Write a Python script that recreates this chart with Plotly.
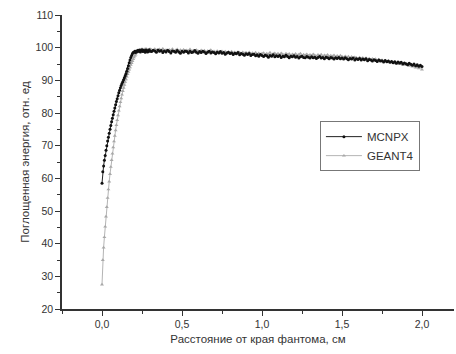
import plotly.graph_objects as go

# x grid (cm): fine steps on the rising edge, then 0.01 cm
x_vals = [round(i * 0.005, 3) for i in range(61)] + [round(0.3 + i * 0.01, 2) for i in range(1, 171)]

mcnpx_rise = [58.5, 62.0, 63.8, 65.5, 67.0, 68.6, 70.0, 71.4, 72.6, 73.8,
              75.0, 76.2, 77.3, 78.4, 79.5, 80.5, 81.5, 82.5, 83.5, 84.4,
              85.3, 86.2, 87.0, 87.7, 88.4, 89.0, 89.6, 90.2, 90.8, 91.4,
              92.0, 92.8, 93.6, 94.5, 95.4, 96.2, 97.0, 97.6, 98.1, 98.5,
              98.6, 98.9, 98.5, 99.0, 98.8, 99.2, 98.9, 99.3, 98.7, 99.1,
              99.4, 98.8, 99.2, 99.0, 98.6, 99.3, 99.1, 98.7, 99.0, 99.4, 98.9]
mcnpx_flat = [98.8, 99.2, 99.0, 98.6, 99.3, 98.9, 99.1, 98.5, 99.0, 98.7,
              99.2, 98.8, 98.4, 99.0, 98.9, 98.6, 99.1, 98.7, 98.3, 98.9,
              98.6, 99.0, 98.8, 98.4, 98.9, 98.5, 98.7, 99.1, 98.6, 98.3,
              98.8, 98.5, 98.9, 98.7, 98.2, 98.6, 98.9, 98.4, 98.7, 98.5,
              98.1, 98.6, 98.4, 98.8, 98.3, 98.5, 98.0, 98.4, 98.6, 98.2,
              98.4, 97.9, 98.3, 98.1, 98.5, 97.8, 98.2, 98.0, 97.7, 98.1,
              97.9, 98.2, 97.6, 97.9, 98.0, 97.5, 97.8, 97.4, 97.9, 97.6,
              97.3, 97.7, 97.5, 97.1, 97.6, 97.4, 97.8, 97.2, 97.5, 97.3,
              97.6, 97.0, 97.4, 97.2, 97.7, 97.3, 96.9, 97.4, 97.2, 97.5,
              97.1, 97.3, 96.8, 97.2, 97.4, 97.0, 96.9, 97.3, 97.1, 96.8,
              97.2, 96.9, 97.1, 96.7, 97.0, 97.3, 96.8, 97.0, 96.6, 97.1,
              96.9, 96.6, 97.0, 96.8, 96.5, 96.9, 96.7, 97.0, 96.6, 96.8,
              96.5, 96.9, 96.6, 96.3, 96.7, 96.5, 96.8, 96.2, 96.6, 96.4,
              96.7, 96.2, 96.5, 96.3, 96.6, 96.0, 96.4, 96.2, 95.9, 96.3,
              96.1, 95.8, 96.2, 95.9, 96.0, 95.6, 96.1, 95.7, 95.9, 95.5,
              95.8, 95.4, 95.7, 95.2, 95.6, 95.3, 95.5, 95.0, 95.3, 95.1,
              94.8, 95.2, 94.9, 94.6, 95.0, 94.5, 94.8, 94.3, 94.6, 94.2]
mcnpx = mcnpx_rise + mcnpx_flat

geant4_rise = [27.5, 35.0, 38.8, 42.0, 45.2, 48.3, 51.2, 54.0, 56.6, 59.0,
               61.3, 63.5, 65.6, 67.6, 69.5, 71.3, 73.0, 74.7, 76.3, 77.8,
               79.3, 80.7, 82.0, 83.3, 84.5, 85.6, 86.7, 87.7, 88.6, 89.5,
               90.3, 91.1, 91.9, 92.6, 93.3, 94.0, 94.7, 95.3, 95.9, 96.5,
               97.0, 97.5, 97.9, 98.3, 98.6, 98.9, 99.1, 98.8, 99.4, 99.0,
               99.6, 99.2, 98.9, 99.5, 99.1, 99.7, 99.0, 99.4, 98.9, 99.3, 99.6]
geant4_flat = [99.4, 99.0, 99.6, 99.2, 98.9, 99.5, 99.1, 99.7, 99.0, 99.3,
               98.9, 99.4, 99.1, 99.6, 98.8, 99.2, 99.5, 98.9, 99.3, 99.0,
               99.4, 98.8, 99.2, 99.0, 99.5, 98.9, 99.1, 98.7, 99.3, 99.0,
               98.7, 99.2, 98.9, 99.1, 98.6, 99.0, 98.8, 99.3, 98.7, 98.9,
               98.6, 99.0, 98.7, 98.4, 98.9, 98.6, 98.8, 98.3, 98.7, 98.5,
               98.8, 98.4, 98.6, 98.2, 98.7, 98.5, 98.1, 98.6, 98.3, 98.5,
               98.2, 98.6, 98.0, 98.4, 98.1, 98.5, 97.9, 98.3, 98.0, 98.2,
               98.4, 97.9, 98.2, 98.0, 98.5, 97.8, 98.1, 98.3, 97.9, 98.2,
               97.8, 98.3, 98.0, 97.7, 98.2, 97.9, 98.1, 97.6, 98.0, 97.8,
               98.1, 97.7, 97.9, 98.2, 97.6, 97.9, 97.7, 98.0, 97.5, 97.8,
               97.6, 98.0, 97.7, 97.4, 97.8, 97.5, 97.9, 97.3, 97.7, 97.5,
               97.8, 97.3, 97.6, 97.4, 97.7, 97.1, 97.5, 97.2, 97.6, 97.3,
               97.0, 97.4, 97.1, 97.3, 96.9, 97.2, 96.8, 97.1, 96.9, 96.6,
               97.0, 96.7, 96.9, 96.5, 96.8, 96.4, 96.7, 96.3, 96.6, 96.2,
               96.5, 96.1, 96.4, 96.0, 96.2, 95.8, 96.1, 95.7, 95.9, 95.5,
               95.8, 95.3, 95.6, 95.1, 95.4, 95.0, 95.2, 94.8, 95.1, 94.7,
               94.9, 94.4, 94.7, 94.2, 94.5, 93.9, 94.2, 93.7, 94.0, 93.3]
geant4 = geant4_rise + geant4_flat

x_ticks = [0.0, 0.5, 1.0, 1.5, 2.0]
y_ticks = [20, 30, 40, 50, 60, 70, 80, 90, 100, 110]

FONT = "Liberation Sans, Arial, sans-serif"

fig = go.Figure()
fig.add_trace(go.Scatter(
    x=x_vals, y=geant4, name="GEANT4", mode="lines+markers",
    line=dict(color="#b4b4b4", width=1),
    marker=dict(symbol="triangle-up", size=3.5, color="#a8a8a8"),
))
fig.add_trace(go.Scatter(
    x=x_vals, y=mcnpx, name="MCNPX", mode="lines+markers",
    line=dict(color="#222222", width=1),
    marker=dict(symbol="circle", size=3, color="#111111"),
))

fig.update_layout(
    width=456, height=354,
    margin=dict(l=62, r=2, t=15, b=45),
    paper_bgcolor="white", plot_bgcolor="white",
    font=dict(family=FONT, size=11, color="#333333"),
    separators=", ",
    showlegend=True,
    legend=dict(
        x=0.658, y=0.639, xanchor="left", yanchor="top",
        bordercolor="#777777", borderwidth=1, bgcolor="white",
        font=dict(family=FONT, size=11.5, color="#333333"),
        traceorder="reversed", itemwidth=36, tracegroupgap=0,
    ),
    xaxis=dict(
        range=[-0.25, 2.2], tickvals=x_ticks, tickformat=".1f",
        showgrid=False, zeroline=False, showline=True, linecolor="#333333", linewidth=1.5,
        ticks="outside", ticklen=5, tickwidth=1.2, tickcolor="#333333",
        minor=dict(dtick=0.25, tick0=0, ticks="outside", ticklen=3, tickcolor="#333333", showgrid=False),
        title=dict(text="Расстояние от края фантома, см", font=dict(size=11.5), standoff=6),
        tickfont=dict(size=10.5),
    ),
    yaxis=dict(
        range=[20, 110], tickvals=y_ticks,
        showgrid=False, zeroline=False, showline=True, linecolor="#333333", linewidth=1.5,
        ticks="outside", ticklen=5, tickwidth=1.2, tickcolor="#333333",
        minor=dict(dtick=5, tick0=0, ticks="outside", ticklen=3, tickcolor="#333333", showgrid=False),
        title=dict(text="Поглощенная энергия, отн. ед", font=dict(size=11.5), standoff=4),
        tickfont=dict(size=10.5),
    ),
)

fig.write_html("out.html")
